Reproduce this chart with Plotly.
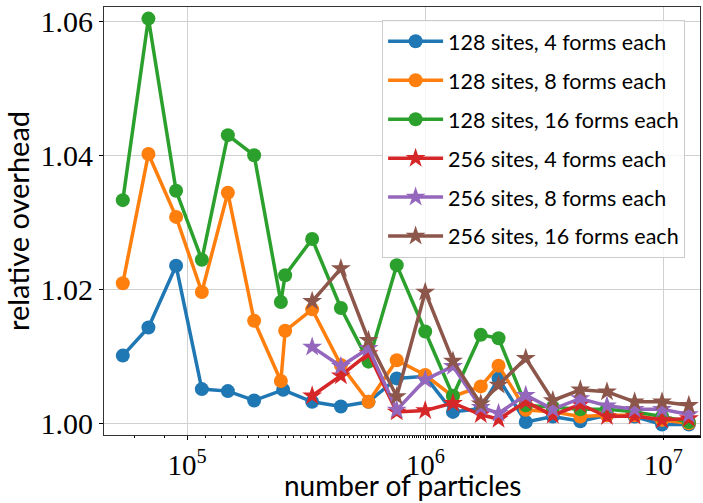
import plotly.graph_objects as go

# Particle counts at which each run was measured
x_128 = [53700, 68800, 89900, 115300, 148300, 191200, 247600, 258100, 335100, 442400,
         577900, 759200, 1000000, 1307700, 1711300, 2032300, 2644000, 3434000, 4481000,
         5799000, 7575000, 9875000, 12800000]
x_128_4 = [53700, 68800, 89900, 115300, 148300, 191200, 253200, 335100, 442400,
           577900, 759200, 1000000, 1307700, 1711300, 2032300, 2644000, 3434000, 4481000,
           5799000, 7575000, 9875000, 12800000]
x_256 = [335100, 442400, 577900, 759200, 1000000, 1307700, 1711300, 2032300, 2644000,
         3434000, 4481000, 5799000, 7575000, 9875000, 12800000]

# Relative overhead per configuration
y_128_4 = [1.0101, 1.0143, 1.0235, 1.0051, 1.0048, 1.0034, 1.0050, 1.0032, 1.0025,
           1.0032, 1.0067, 1.0070, 1.0017, 1.0022, 1.0067, 1.0002, 1.0010, 1.0003,
           1.0012, 1.0010, 0.9998, 0.9998]
y_128_8 = [1.0209, 1.0402, 1.0308, 1.0196, 1.0344, 1.0153, 1.0063, 1.0138, 1.0170,
           1.0087, 1.0032, 1.0094, 1.0072, 1.0040, 1.0055, 1.0086, 1.0020, 1.0017,
           1.0010, 1.0012, 1.0012, 1.0005, 1.0000]
y_128_16 = [1.0333, 1.0604, 1.0347, 1.0244, 1.0430, 1.0400, 1.0181, 1.0221, 1.0275,
            1.0172, 1.0092, 1.0236, 1.0137, 1.0041, 1.0132, 1.0127, 1.0027, 1.0024,
            1.0021, 1.0021, 1.0017, 1.0010, 1.0002]
y_256_4 = [1.0041, 1.0071, 1.0104, 1.0017, 1.0019, 1.0030, 1.0013, 1.0006, 1.0032,
           1.0012, 1.0028, 1.0010, 1.0011, 1.0005, 1.0007]
y_256_8 = [1.0114, 1.0085, 1.0112, 1.0020, 1.0065, 1.0085, 1.0024, 1.0015, 1.0042,
           1.0021, 1.0037, 1.0026, 1.0021, 1.0021, 1.0013]
y_256_16 = [1.0182, 1.0231, 1.0124, 1.0040, 1.0196, 1.0093, 1.0029, 1.0057, 1.0097,
            1.0034, 1.0050, 1.0047, 1.0032, 1.0032, 1.0027]

series = [
    ("128 sites, 4 forms each", x_128_4, y_128_4, "#1f77b4", "circle"),
    ("128 sites, 8 forms each", x_128, y_128_8, "#ff7f0e", "circle"),
    ("128 sites, 16 forms each", x_128, y_128_16, "#2ca02c", "circle"),
    ("256 sites, 4 forms each", x_256, y_256_4, "#d62728", "star"),
    ("256 sites, 8 forms each", x_256, y_256_8, "#9467bd", "star"),
    ("256 sites, 16 forms each", x_256, y_256_16, "#8c564b", "star"),
]

x_ticks = [1e5, 1e6, 1e7]
x_ticktext = ["10<sup>5</sup>", "10<sup>6</sup>", "10<sup>7</sup>"]
y_ticks = [1.00, 1.02, 1.04, 1.06]
y_ticktext = ["1.00", "1.02", "1.04", "1.06"]

fig = go.Figure()
for i, (name, xs, ys, color, sym) in enumerate(series):
    fig.add_trace(go.Scatter(
        x=xs, y=ys, name=name, mode="lines+markers",
        legendgroup=f"g{i}",
        line=dict(color=color, width=3.5),
        marker=dict(symbol=sym, color=color, size=14 if sym == "circle" else 15,
                    line=dict(width=0)),
    ))

serif = "Liberation Serif"
sans = "Lato"

fig.update_layout(
    width=703, height=503,
    margin=dict(l=104, r=3, t=7, b=68),
    paper_bgcolor="white", plot_bgcolor="white",
    showlegend=True,
    legend=dict(
        x=0.975, y=0.97, xanchor="right", yanchor="top",
        bgcolor="rgba(255,255,255,0.8)", bordercolor="#cccccc", borderwidth=1,
        font=dict(family=sans, size=21.5, color="black"),
        tracegroupgap=8, itemwidth=55,
    ),
)

# x-axis title set as a paper-anchored label so it sits flush with the bottom edge
fig.add_annotation(
    text="number of particles", xref="paper", yref="paper",
    x=0.5, y=-68 / 428, xanchor="center", yanchor="bottom",
    showarrow=False, font=dict(family=sans, size=28, color="black"),
    borderpad=0,
)

fig.update_xaxes(
    type="log", range=[4.651, 7.154], automargin=False,
    tickvals=x_ticks, ticktext=x_ticktext,
    tickfont=dict(family=serif, size=29, color="black"),
    ticks="outside", ticklen=4, tickcolor="black",
    showgrid=True, gridcolor="#d0d0d0", gridwidth=1,
    showline=True, linecolor="#333333", linewidth=1, mirror=True,
    zeroline=False,
    minor=dict(ticks="outside", ticklen=2, tickcolor="black", showgrid=False),
)
fig.update_yaxes(
    range=[0.99825, 1.06213], automargin=False,
    tickvals=y_ticks, ticktext=y_ticktext,
    tickfont=dict(family=serif, size=30, color="black"),
    ticks="outside", ticklen=4, tickcolor="black",
    showgrid=True, gridcolor="#d0d0d0", gridwidth=1,
    showline=True, linecolor="#333333", linewidth=1, mirror=True,
    zeroline=False,
    title=dict(text="relative overhead", font=dict(family=sans, size=29, color="black"),
               standoff=6),
)

fig.write_html("out.html")
